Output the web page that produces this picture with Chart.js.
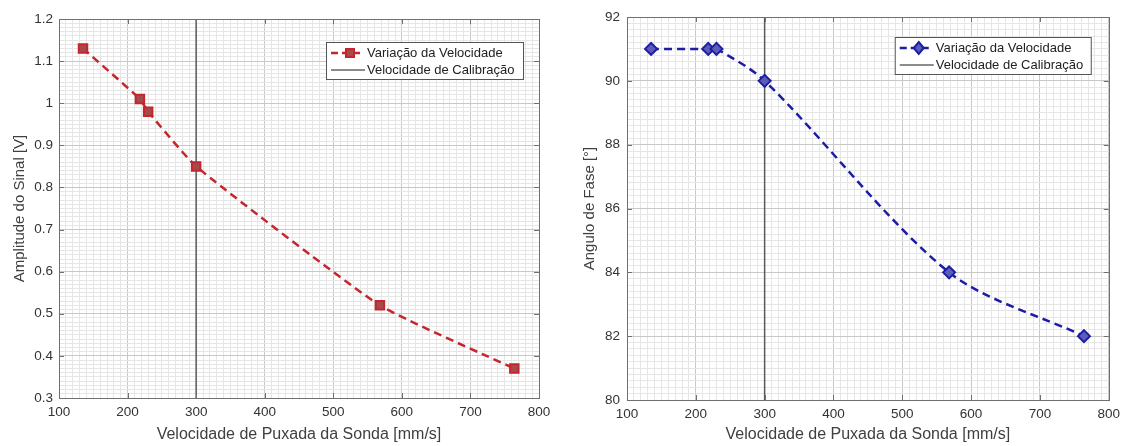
<!DOCTYPE html>
<html>
<head>
<meta charset="utf-8">
<script src="https://cdn.jsdelivr.net/npm/chart.js@4/dist/chart.umd.min.js"></script>
<style>
  html, body { margin: 0; padding: 0; background: #fff; }
  .box { position: absolute; top: 0; height: 446px; }
</style>
</head>
<body>
<div class="box" style="left:0;width:560px"><canvas id="amp"></canvas></div>
<div class="box" style="left:560px;width:566px"><canvas id="fase"></canvas></div>
<script>
// data
const velAmp = [135, 218, 230, 300, 568, 764];
const amplitude = [1.13, 1.01, 0.98, 0.85, 0.52, 0.37];
const velFase = [135, 218, 230, 300, 568, 764];
const anguloFase = [91, 91, 91, 90, 84, 82];
const velCalibracao = 300;

const xTitle = 'Velocidade de Puxada da Sonda [mm/s]';
const legendLabels = ['Variação da Velocidade', 'Velocidade de Calibração'];

Chart.defaults.font.family = '"Liberation Sans", Arial, sans-serif';
Chart.defaults.color = '#333';

const isMajor = (v, step) => Math.abs(v / step - Math.round(v / step)) < 1e-6;

// box + inward major ticks like matlab
const boxPlugin = {
  id: 'box',
  afterDraw(chart, args, opts) {
    const {ctx, chartArea: a, scales} = chart;
    ctx.save();
    ctx.strokeStyle = '#707070';
    ctx.lineWidth = 1;
    ctx.setLineDash([]);
    ctx.beginPath();
    scales.x.ticks.forEach(t => {
      if (!isMajor(t.value, 100)) return;
      const px = Math.round(scales.x.getPixelForValue(t.value)) + 0.5;
      ctx.moveTo(px, a.bottom); ctx.lineTo(px, a.bottom - 5);
      ctx.moveTo(px, a.top); ctx.lineTo(px, a.top + 5);
    });
    scales.y.ticks.forEach(t => {
      if (!isMajor(t.value, opts.yMajor)) return;
      const py = Math.round(scales.y.getPixelForValue(t.value)) + 0.5;
      ctx.moveTo(a.left, py); ctx.lineTo(a.left + 5, py);
      ctx.moveTo(a.right, py); ctx.lineTo(a.right - 5, py);
    });
    ctx.stroke();
    ctx.strokeRect(Math.round(a.left) + 0.5, Math.round(a.top) + 0.5,
      Math.round(a.right - a.left), Math.round(a.bottom - a.top));

    // legend inside the axes
    const ds = chart.data.datasets[0];
    const w = opts.legendW, h = 37;
    const x0 = a.right - opts.legendRight - w, y0 = a.top + opts.legendTop;
    ctx.fillStyle = '#fff';
    ctx.fillRect(x0, y0, w, h);
    ctx.strokeStyle = '#555';
    ctx.strokeRect(x0 + 0.5, y0 + 0.5, w, h);
    const y1 = y0 + 11, y2 = y0 + 28;
    ctx.strokeStyle = ds.borderColor;
    ctx.lineWidth = 2.5;
    ctx.setLineDash([7, 4]);
    ctx.beginPath(); ctx.moveTo(x0 + 5, y1); ctx.lineTo(x0 + 36, y1); ctx.stroke();
    ctx.setLineDash([]);
    ctx.fillStyle = ds.pointBackgroundColor;
    ctx.lineWidth = 2;
    ctx.strokeStyle = ds.pointBorderColor;
    const mx = x0 + 24;
    ctx.beginPath();
    if (ds.pointStyle === 'rect') {
      ctx.rect(mx - 4, y1 - 4, 8, 8);
    } else {
      ctx.moveTo(mx, y1 - 6); ctx.lineTo(mx + 5, y1); ctx.lineTo(mx, y1 + 6); ctx.lineTo(mx - 5, y1); ctx.closePath();
    }
    ctx.fill(); ctx.stroke();
    ctx.strokeStyle = '#666';
    ctx.lineWidth = 1.5;
    ctx.beginPath(); ctx.moveTo(x0 + 5, y2); ctx.lineTo(x0 + 39, y2); ctx.stroke();
    ctx.fillStyle = '#222';
    ctx.font = '13px "Liberation Sans", Arial, sans-serif';
    ctx.textBaseline = 'middle';
    ctx.fillText(legendLabels[0], x0 + 41, y1);
    ctx.fillText(legendLabels[1], x0 + 41, y2);
    ctx.restore();
  }
};

function makeChart(id, o) {
  const pts = o.xs.map((x, i) => ({x: x, y: o.ys[i]}));
  return new Chart(document.getElementById(id), {
    type: 'line',
    data: {
      datasets: [{
        label: legendLabels[0],
        data: pts,
        borderColor: o.line,
        borderWidth: 2.5,
        borderDash: [8, 5],
        tension: o.tension,
        pointStyle: o.marker,
        pointRadius: o.radius,
        pointBackgroundColor: o.fill,
        pointBorderColor: o.line,
        pointBorderWidth: 2,
        order: 1
      }, {
        label: legendLabels[1],
        data: [{x: velCalibracao, y: o.yMin}, {x: velCalibracao, y: o.yMax}],
        borderColor: '#5a5a5a',
        borderWidth: 1.5,
        pointRadius: 0,
        order: 2
      }]
    },
    options: {
      responsive: true,
      maintainAspectRatio: false,
      animation: false,
      layout: {padding: {top: o.padTop, right: o.padRight, left: 0, bottom: 0}},
      plugins: {
        legend: {display: false},
        tooltip: {enabled: false},
        box: {yMajor: o.yMajor, legendW: o.legendW, legendRight: o.legendRight, legendTop: o.legendTop}
      },
      scales: {
        x: {
          type: 'linear',
          min: 100, max: 800,
          afterFit: s => { s.height = o.xH; },
          border: {display: false},
          grid: {
            drawTicks: false,
            lineWidth: 1,
            color: c => isMajor(c.tick.value, 100) ? '#c8c8c8' : '#e6e6e6'
          },
          ticks: {
            stepSize: 10,
            autoSkip: false,
            maxRotation: 0,
            padding: 6,
            font: {size: 13.5},
            color: '#333',
            callback: v => isMajor(v, 100) ? String(Math.round(v)) : ''
          },
          title: {display: true, text: xTitle, color: '#404040', font: {size: 16}, padding: {top: 0, bottom: 2}}
        },
        y: {
          type: 'linear',
          min: o.yMin, max: o.yMax,
          afterFit: s => { s.width = o.yW; },
          border: {display: false},
          grid: {
            drawTicks: false,
            lineWidth: 1,
            color: c => isMajor(c.tick.value, o.yMajor) ? '#c8c8c8' : '#e6e6e6'
          },
          ticks: {
            stepSize: o.yMinor,
            autoSkip: false,
            padding: o.tickPad,
            font: {size: 13.5},
            color: '#333',
            callback: v => isMajor(v, o.yMajor) ? String(Math.round(v / o.yMajor) * o.yMajor * 1e6 / 1e6).replace(/(\.\d)\d+$/, '$1') : ''
          },
          title: {display: true, text: o.yTitle, color: '#404040', font: {size: 15}, padding: {top: o.yTitlePad, bottom: 0}}
        }
      }
    },
    plugins: [boxPlugin]
  });
}

makeChart('amp', {
  xs: velAmp, ys: amplitude,
  yMin: 0.3, yMax: 1.2, yMajor: 0.1, yMinor: 0.01,
  yTitle: 'Amplitude do Sinal [V]',
  line: '#c4262e', fill: '#a84a4c', marker: 'rect', radius: 6, tension: 0.15,
  padTop: 19, padRight: 21, xH: 48, yW: 59, tickPad: 6, yTitlePad: 11,
  legendW: 197, legendRight: 16, legendTop: 23
});

makeChart('fase', {
  xs: velFase, ys: anguloFase,
  yMin: 80, yMax: 92, yMajor: 2, yMinor: 0.2,
  yTitle: 'Angulo de Fase [°]',
  line: '#1c1ca6', fill: '#5b5bb8', marker: 'rectRot', radius: 6, tension: 0.3,
  padTop: 17, padRight: 16, xH: 46, yW: 67, tickPad: 7, yTitlePad: 21,
  legendW: 196, legendRight: 18, legendTop: 20
});
</script>
</body>
</html>
